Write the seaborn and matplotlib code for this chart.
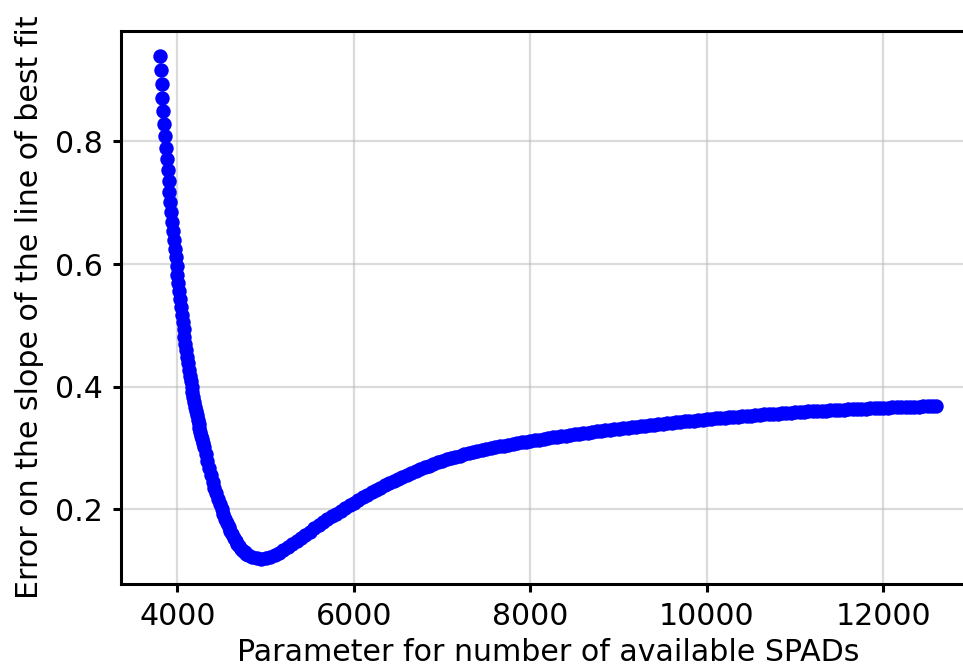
import matplotlib
matplotlib.use("Agg")
import matplotlib.pyplot as plt
import seaborn as sns

# -----------------------------------
# Data
# -----------------------------------
spads = [
    3800, 3810, 3820, 3830, 3840, 3850, 3860, 3870, 3880, 3890,
    3900, 3910, 3920, 3930, 3940, 3950, 3960, 3970, 3980, 3990,
    4000, 4010, 4020, 4030, 4040, 4050, 4060, 4070, 4080, 4090,
    4100, 4110, 4120, 4130, 4140, 4150, 4160, 4170, 4180, 4190,
    4200, 4210, 4220, 4230, 4240, 4250, 4260, 4270, 4280, 4290,
    4300, 4320, 4340, 4360, 4380, 4400, 4420, 4440, 4460, 4480,
    4500, 4520, 4540, 4560, 4580, 4600, 4620, 4640, 4660, 4680,
    4700, 4720, 4740, 4760, 4780, 4800, 4850, 4900, 4950, 5000,
    5050, 5100, 5150, 5200, 5250, 5300, 5350, 5400, 5450, 5500,
    5550, 5600, 5650, 5700, 5750, 5800, 5850, 5900, 5950, 6000,
    6050, 6100, 6150, 6200, 6250, 6300, 6350, 6400, 6450, 6500,
    6550, 6600, 6650, 6700, 6750, 6800, 6850, 6900, 6950, 7000,
    7050, 7100, 7150, 7200, 7250, 7300, 7350, 7400, 7450, 7500,
    7550, 7600, 7650, 7700, 7750, 7800, 7850, 7900, 7950, 8000,
    8050, 8100, 8150, 8200, 8250, 8300, 8350, 8400, 8450, 8500,
    8550, 8600, 8650, 8700, 8750, 8800, 8850, 8900, 8950, 9000,
    9050, 9100, 9150, 9200, 9250, 9300, 9350, 9400, 9450, 9500,
    9550, 9600, 9650, 9700, 9750, 9800, 9850, 9900, 9950, 10000,
    10050, 10100, 10150, 10200, 10250, 10300, 10350, 10400, 10450, 10500,
    10550, 10600, 10650, 10700, 10750, 10800, 10850, 10900, 10950, 11000,
    11050, 11100, 11150, 11200, 11250, 11300, 11350, 11400, 11450, 11500,
    11550, 11600, 11650, 11700, 11750, 11800, 11850, 11900, 11950, 12000,
    12050, 12100, 12150, 12200, 12250, 12300, 12350, 12400, 12450, 12500,
    12550, 12600,
]

slope_err = [
    0.9400, 0.9160, 0.8930, 0.8710, 0.8500, 0.8290, 0.8090, 0.7900, 0.7710, 0.7530,
    0.7350, 0.7180, 0.7010, 0.6850, 0.6690, 0.6540, 0.6390, 0.6250, 0.6110, 0.5970,
    0.5830, 0.5693, 0.5559, 0.5428, 0.5301, 0.5177, 0.5054, 0.4935, 0.4818, 0.4704,
    0.4593, 0.4485, 0.4380, 0.4279, 0.4181, 0.4086, 0.3994, 0.3910, 0.3829, 0.3751,
    0.3676, 0.3603, 0.3532, 0.3463, 0.3396, 0.3330, 0.3265, 0.3202, 0.3140, 0.3079,
    0.3019, 0.2899, 0.2782, 0.2669, 0.2560, 0.2454, 0.2356, 0.2262, 0.2171, 0.2084,
    0.2000, 0.1922, 0.1848, 0.1778, 0.1712, 0.1650, 0.1592, 0.1537, 0.1486, 0.1439,
    0.1397, 0.1359, 0.1326, 0.1297, 0.1272, 0.1252, 0.1217, 0.1199, 0.1193, 0.1201,
    0.1221, 0.1252, 0.1290, 0.1334, 0.1381, 0.1430, 0.1481, 0.1533, 0.1585, 0.1637,
    0.1689, 0.1740, 0.1789, 0.1837, 0.1885, 0.1932, 0.1977, 0.2022, 0.2066, 0.2110,
    0.2152, 0.2194, 0.2235, 0.2275, 0.2314, 0.2352, 0.2390, 0.2427, 0.2463, 0.2498,
    0.2532, 0.2565, 0.2597, 0.2628, 0.2658, 0.2687, 0.2715, 0.2741, 0.2766, 0.2790,
    0.2813, 0.2835, 0.2856, 0.2876, 0.2895, 0.2913, 0.2931, 0.2948, 0.2964, 0.2980,
    0.2996, 0.3011, 0.3025, 0.3039, 0.3053, 0.3066, 0.3079, 0.3092, 0.3104, 0.3116,
    0.3128, 0.3139, 0.3150, 0.3161, 0.3172, 0.3183, 0.3193, 0.3203, 0.3213, 0.3223,
    0.3233, 0.3243, 0.3252, 0.3261, 0.3270, 0.3279, 0.3288, 0.3297, 0.3306, 0.3315,
    0.3324, 0.3332, 0.3340, 0.3348, 0.3356, 0.3364, 0.3372, 0.3380, 0.3388, 0.3396,
    0.3404, 0.3412, 0.3419, 0.3426, 0.3433, 0.3440, 0.3447, 0.3454, 0.3461, 0.3468,
    0.3475, 0.3482, 0.3488, 0.3494, 0.3500, 0.3506, 0.3512, 0.3518, 0.3524, 0.3530,
    0.3536, 0.3542, 0.3547, 0.3552, 0.3557, 0.3562, 0.3567, 0.3572, 0.3577, 0.3582,
    0.3587, 0.3592, 0.3596, 0.3600, 0.3604, 0.3608, 0.3612, 0.3616, 0.3620, 0.3624,
    0.3628, 0.3632, 0.3635, 0.3638, 0.3641, 0.3644, 0.3647, 0.3650, 0.3653, 0.3656,
    0.3659, 0.3662, 0.3665, 0.3668, 0.3671, 0.3673, 0.3675, 0.3677, 0.3679, 0.3681,
    0.3683, 0.3685,
]

# -----------------------------------
# Style
# -----------------------------------
plt.rcParams["font.family"] = ["DejaVu Sans"]
plt.rcParams["font.size"] = 10.8
plt.rcParams["axes.linewidth"] = 1.1
plt.rcParams["xtick.major.width"] = 1.1
plt.rcParams["ytick.major.width"] = 1.1
plt.rcParams["xtick.major.size"] = 3.0
plt.rcParams["ytick.major.size"] = 3.0

# -----------------------------------
# Scatter plot
# -----------------------------------
fig = plt.figure(figsize=(4.815, 3.345), dpi=200)
# right edge of the axes runs past the figure, as in the original crop
ax = fig.add_axes([0.1256, 0.1271, 0.8871, 0.8273])

sns.scatterplot(x=spads, y=slope_err, color="blue", s=27, linewidth=0, ax=ax)

ax.grid(True, color="#b0b0b0", alpha=0.45, linewidth=0.8)
ax.set_axisbelow(True)
ax.set_xlabel("Parameter for number of available SPADs", labelpad=2.5)
ax.set_ylabel("Error on the slope of the line of best fit")

fig.savefig("out.png", dpi=200)
